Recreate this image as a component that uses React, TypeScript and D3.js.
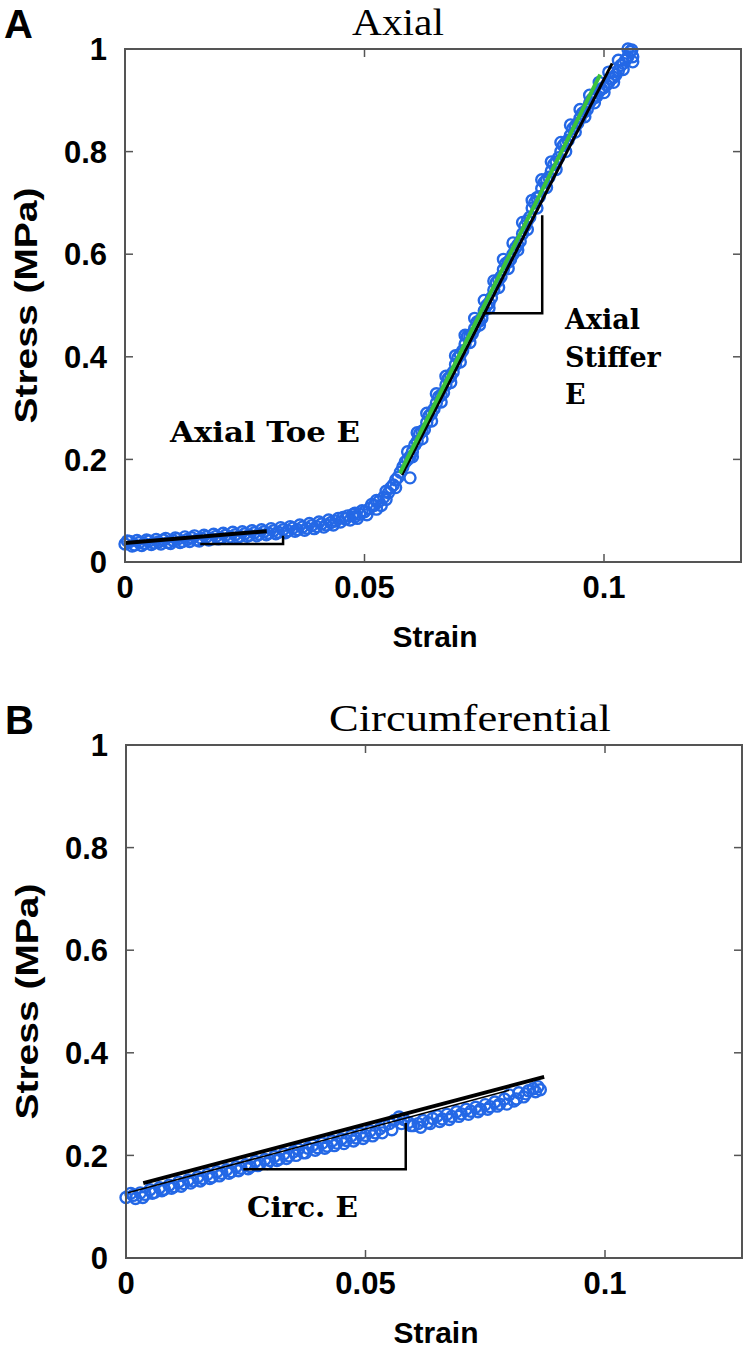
import React from 'react';
import * as d3 from 'd3';

type P = [number, number];

// Panel A – axial test (strain, stress MPa)
const axialPoints: P[] = [
  [0.000, 0.035], [0.001, 0.040], [0.002, 0.033], [0.003, 0.038], [0.004, 0.036], [0.005, 0.041],
  [0.006, 0.037], [0.007, 0.039], [0.008, 0.043], [0.009, 0.038], [0.010, 0.042], [0.011, 0.045],
  [0.012, 0.040], [0.013, 0.044], [0.014, 0.047], [0.015, 0.043], [0.016, 0.046], [0.017, 0.049],
  [0.018, 0.045], [0.019, 0.050], [0.020, 0.047], [0.021, 0.052], [0.022, 0.049], [0.023, 0.053],
  [0.024, 0.050], [0.025, 0.055], [0.026, 0.052], [0.027, 0.057], [0.028, 0.054], [0.029, 0.059],
  [0.030, 0.056], [0.031, 0.061], [0.032, 0.058], [0.033, 0.063], [0.034, 0.061], [0.035, 0.066],
  [0.036, 0.063], [0.037, 0.068], [0.038, 0.066], [0.039, 0.071], [0.040, 0.069], [0.041, 0.074],
  [0.042, 0.072], [0.043, 0.077], [0.044, 0.080], [0.045, 0.078], [0.046, 0.084], [0.047, 0.082],
  [0.048, 0.088], [0.049, 0.093], [0.050, 0.098], [0.051, 0.104], [0.052, 0.110], [0.053, 0.118],
  [0.054, 0.126], [0.055, 0.135], [0.0555, 0.145], [0.056, 0.150], [0.057, 0.165], [0.0575, 0.175],
  [0.058, 0.185], [0.059, 0.200], [0.060, 0.215], [0.061, 0.235], [0.062, 0.255], [0.063, 0.272],
  [0.064, 0.290], [0.065, 0.310], [0.066, 0.325], [0.067, 0.345], [0.068, 0.362], [0.069, 0.385],
  [0.070, 0.405], [0.071, 0.425], [0.072, 0.440], [0.073, 0.455], [0.074, 0.470], [0.075, 0.490],
  [0.076, 0.505], [0.077, 0.530], [0.078, 0.550], [0.079, 0.570], [0.080, 0.585], [0.081, 0.600],
  [0.082, 0.618], [0.083, 0.640], [0.084, 0.665], [0.085, 0.690], [0.086, 0.710], [0.087, 0.728],
  [0.088, 0.745], [0.089, 0.762], [0.090, 0.780], [0.091, 0.800], [0.092, 0.818], [0.093, 0.832],
  [0.094, 0.850], [0.095, 0.865], [0.096, 0.878], [0.097, 0.895], [0.098, 0.905], [0.099, 0.918],
  [0.100, 0.925], [0.101, 0.935], [0.102, 0.945], [0.103, 0.958], [0.104, 0.972], [0.105, 0.985],
  [0.1055, 0.995],
  [0.0565, 0.160], [0.0585, 0.195], [0.0595, 0.205], [0.0605, 0.228], [0.0615, 0.250], [0.0625, 0.258],
  [0.0635, 0.285], [0.0645, 0.298], [0.0655, 0.322], [0.0665, 0.330], [0.0675, 0.358], [0.0685, 0.370],
  [0.0695, 0.398], [0.0705, 0.412], [0.0715, 0.440], [0.0725, 0.445], [0.0735, 0.468], [0.0745, 0.475],
  [0.0755, 0.500], [0.0765, 0.515], [0.0775, 0.545], [0.0785, 0.556], [0.0795, 0.582], [0.0805, 0.590],
  [0.0815, 0.612], [0.0825, 0.625], [0.0835, 0.655], [0.0845, 0.672], [0.0855, 0.700], [0.0865, 0.712],
  [0.0875, 0.740], [0.0885, 0.750], [0.0895, 0.775], [0.0905, 0.788], [0.0915, 0.812], [0.0925, 0.822],
  [0.0935, 0.845], [0.0945, 0.855], [0.0955, 0.875], [0.0965, 0.882], [0.0975, 0.902], [0.0985, 0.908],
  [0.0995, 0.922], [0.1005, 0.930], [0.1015, 0.942], [0.1025, 0.950], [0.1035, 0.968], [0.1045, 0.978],
  [0.1058, 0.998], [0.106, 0.985],
  [0.0465, 0.090], [0.048, 0.095], [0.0445, 0.085], [0.0535, 0.110], [0.0595, 0.164], [0.0525, 0.120],
  [0.0005, 0.041], [0.0015, 0.031], [0.0025, 0.042], [0.0035, 0.032], [0.0045, 0.043], [0.0055, 0.034],
  [0.0065, 0.044], [0.0075, 0.035], [0.0085, 0.046], [0.0095, 0.036], [0.0105, 0.047], [0.0115, 0.038],
  [0.0125, 0.049], [0.0135, 0.040], [0.0145, 0.051], [0.0155, 0.041], [0.0165, 0.052], [0.0175, 0.043],
  [0.0185, 0.054], [0.0195, 0.045], [0.0205, 0.056], [0.0215, 0.046], [0.0225, 0.058], [0.0235, 0.048],
  [0.0245, 0.059], [0.0255, 0.050], [0.0265, 0.061], [0.0275, 0.051], [0.0285, 0.063], [0.0295, 0.053],
  [0.0305, 0.065], [0.0315, 0.055], [0.0325, 0.067], [0.0335, 0.057], [0.0345, 0.069], [0.0355, 0.060],
  [0.0365, 0.072], [0.0375, 0.062], [0.0385, 0.075], [0.0395, 0.065], [0.0405, 0.078], [0.0415, 0.068],
  [0.0425, 0.082], [0.0435, 0.072], [0.0455, 0.087], [0.0475, 0.092], [0.0485, 0.085], [0.0495, 0.100],
  [0.0505, 0.092], [0.0515, 0.112], [0.0525, 0.103], [0.0545, 0.122], [0.0545, 0.138], [0.0565, 0.145],
  [0.0600, 0.205], [0.0620, 0.240], [0.0640, 0.275], [0.0660, 0.312], [0.0680, 0.350], [0.0700, 0.390],
  [0.0720, 0.428], [0.0740, 0.462], [0.0760, 0.495], [0.0780, 0.535], [0.0800, 0.572], [0.0820, 0.608],
  [0.0840, 0.648], [0.0860, 0.690], [0.0880, 0.730], [0.0900, 0.765], [0.0920, 0.800], [0.0940, 0.838],
  [0.0960, 0.868], [0.0980, 0.895], [0.1000, 0.915], [0.1020, 0.935], [0.1040, 0.960], [0.1060, 0.975],
  [0.0590, 0.215], [0.0610, 0.252], [0.0630, 0.290], [0.0650, 0.328], [0.0670, 0.362], [0.0690, 0.402],
  [0.0710, 0.442], [0.0730, 0.475], [0.0750, 0.510], [0.0770, 0.548], [0.0790, 0.590], [0.0810, 0.622],
  [0.0830, 0.662], [0.0850, 0.705], [0.0870, 0.745], [0.0890, 0.780], [0.0910, 0.818], [0.0930, 0.852],
  [0.0950, 0.882], [0.0970, 0.910], [0.0990, 0.935], [0.1010, 0.955], [0.1030, 0.978], [0.1050, 1.000],
];
const axialToeFit: P[] = [[0.0, 0.037], [0.0296, 0.060]];
const axialStiffFitBlack: P[] = [[0.0578, 0.170], [0.1017, 0.972]];
const axialStiffFitGreen: P[] = [[0.0574, 0.173], [0.0992, 0.950]];
const axialToeTriangle: P[] = [[0.0157, 0.035], [0.0330, 0.035], [0.0330, 0.051]];
const axialStiffTriangle: P[] = [[0.0747, 0.485], [0.0871, 0.485], [0.0871, 0.676]];

// Panel B – circumferential test
const circPoints: P[] = [
  [0.000, 0.118], [0.001, 0.126], [0.002, 0.116], [0.003, 0.127], [0.004, 0.124], [0.005, 0.133],
  [0.006, 0.128], [0.007, 0.137], [0.008, 0.134], [0.009, 0.142], [0.010, 0.139], [0.011, 0.148],
  [0.012, 0.145], [0.013, 0.152], [0.014, 0.150], [0.015, 0.158], [0.016, 0.155], [0.017, 0.163],
  [0.018, 0.158], [0.019, 0.168], [0.020, 0.165], [0.021, 0.172], [0.022, 0.168], [0.023, 0.178],
  [0.024, 0.175], [0.025, 0.182], [0.026, 0.178], [0.027, 0.188], [0.028, 0.184], [0.029, 0.192],
  [0.030, 0.190], [0.031, 0.198], [0.032, 0.193], [0.033, 0.203], [0.034, 0.199], [0.035, 0.207],
  [0.036, 0.212], [0.037, 0.205], [0.038, 0.214], [0.039, 0.220], [0.040, 0.215], [0.041, 0.224],
  [0.042, 0.218], [0.043, 0.228], [0.044, 0.224], [0.045, 0.232], [0.046, 0.229], [0.047, 0.238],
  [0.048, 0.234], [0.049, 0.243], [0.050, 0.239], [0.051, 0.248], [0.052, 0.244], [0.053, 0.252],
  [0.054, 0.258], [0.055, 0.262], [0.056, 0.268], [0.057, 0.275], [0.058, 0.270], [0.059, 0.264],
  [0.060, 0.258], [0.061, 0.262], [0.062, 0.268], [0.063, 0.264], [0.064, 0.272], [0.065, 0.277],
  [0.066, 0.271], [0.067, 0.280], [0.068, 0.276], [0.069, 0.285], [0.070, 0.281], [0.071, 0.290],
  [0.072, 0.286], [0.073, 0.294], [0.074, 0.290], [0.075, 0.299], [0.076, 0.295], [0.077, 0.304],
  [0.078, 0.300], [0.079, 0.310], [0.080, 0.318], [0.081, 0.306], [0.082, 0.322], [0.083, 0.314],
  [0.084, 0.326], [0.085, 0.330], [0.086, 0.334], [0.0865, 0.328],
  [0.0015, 0.122], [0.0035, 0.118], [0.0055, 0.126], [0.0075, 0.131], [0.0095, 0.136], [0.0115, 0.140],
  [0.0135, 0.146], [0.0155, 0.150], [0.0175, 0.155], [0.0195, 0.160], [0.0215, 0.165], [0.0235, 0.170],
  [0.0255, 0.174], [0.0275, 0.180], [0.0295, 0.184], [0.0315, 0.190], [0.0335, 0.194], [0.0355, 0.200],
  [0.0375, 0.205], [0.0395, 0.210], [0.0415, 0.214], [0.0435, 0.219], [0.0455, 0.223], [0.0475, 0.228],
  [0.0495, 0.233], [0.0515, 0.238], [0.0535, 0.244], [0.0555, 0.250], [0.0575, 0.262], [0.0595, 0.258],
  [0.0615, 0.255], [0.0635, 0.262], [0.0655, 0.266], [0.0675, 0.270], [0.0695, 0.276], [0.0715, 0.280],
  [0.0735, 0.285], [0.0755, 0.290], [0.0775, 0.296], [0.0795, 0.300], [0.0815, 0.310], [0.0835, 0.320],
  [0.0855, 0.324],
];
const circFitThick: P[] = [[0.0036, 0.146], [0.0873, 0.353]];
const circFitThin: P[] = [[0.0004, 0.127], [0.080, 0.327]];
const circTriangle: P[] = [[0.0245, 0.173], [0.0584, 0.173], [0.0584, 0.263]];

const xTicks = [0, 0.05, 0.1];
const xTickLabels = ['0', '0.05', '0.1'];
const yTicks = [0, 0.2, 0.4, 0.6, 0.8, 1];
const yTickLabels = ['0', '0.2', '0.4', '0.6', '0.8', '1'];

const BLUE = '#2468e6';
const SANS = '"Liberation Sans", Arial, Helvetica, sans-serif';
const SERIF = '"Liberation Serif", "Times New Roman", serif';
const ANNOT = '"DejaVu Serif", serif';

interface PanelProps {
  left: number;
  top: number;
  letter: string;
  title: string;
  titleX: number;
  titleLen: number;
  points: P[];
  children: (x: d3.ScaleLinear<number, number>, y: d3.ScaleLinear<number, number>) => React.ReactNode;
}

const W = 616;
const H = 513;
const X_MAX = 0.1286;

function Panel({ left, top, letter, title, titleX, titleLen, points, children }: PanelProps) {
  const x = d3.scaleLinear().domain([0, X_MAX]).range([left, left + W]);
  const y = d3.scaleLinear().domain([0, 1]).range([top + H, top]);
  const tickLen = 8;
  return (
    <g>
      <text x={left - 121} y={top - 11} fontFamily={SANS} fontWeight="bold" fontSize={40}>{letter}</text>
      <text x={titleX} y={top - 14} fontFamily={SERIF} fontSize={38} textAnchor="middle"
        textLength={titleLen} lengthAdjust="spacingAndGlyphs">{title}</text>
      {points.map((p, i) => (
        <circle key={i} cx={x(p[0])} cy={y(p[1])} r={5.5} fill="none" stroke={BLUE} strokeWidth={2.4} />
      ))}
      {children(x, y)}
      <rect x={left} y={top} width={W} height={H} fill="none" stroke="#555" strokeWidth={2} />
      {xTicks.map((t, i) => (
        <g key={'xt' + i}>
          <line x1={x(t)} x2={x(t)} y1={top + H} y2={top + H - tickLen} stroke="#555" strokeWidth={1.5} />
          <line x1={x(t)} x2={x(t)} y1={top} y2={top + tickLen} stroke="#555" strokeWidth={1.5} />
          <text x={x(t)} y={top + H + 36} fontFamily={SANS} fontWeight="bold" fontSize={31} textAnchor="middle">{xTickLabels[i]}</text>
        </g>
      ))}
      {yTicks.map((t, i) => (
        <g key={'yt' + i}>
          <line x1={left} x2={left + tickLen} y1={y(t)} y2={y(t)} stroke="#555" strokeWidth={1.5} />
          <line x1={left + W} x2={left + W - tickLen} y1={y(t)} y2={y(t)} stroke="#555" strokeWidth={1.5} />
          <text x={left - 18} y={y(t)} dy="0.36em" fontFamily={SANS} fontWeight="bold" fontSize={31} textAnchor="end">{yTickLabels[i]}</text>
        </g>
      ))}
      <text x={left + 310} y={top + H + 85} fontFamily={SANS} fontWeight="bold" fontSize={30} textAnchor="middle">Strain</text>
      <text transform={`translate(${left - 88},${top + H / 2}) rotate(-90)`} fontFamily={SANS} fontWeight="bold" fontSize={31}
        textAnchor="middle" textLength={236} lengthAdjust="spacingAndGlyphs">Stress (MPa)</text>
    </g>
  );
}

function seg(x: d3.ScaleLinear<number, number>, y: d3.ScaleLinear<number, number>, pts: P[]) {
  const line = d3.line<P>().x(d => x(d[0])).y(d => y(d[1]));
  return line(pts) || '';
}

export default function App() {
  return (
    <svg width={750} height={1352} style={{ position: 'absolute', left: 0, top: 0, background: '#fff' }}>
      <rect width={750} height={1352} fill="#fff" />
      <Panel left={125} top={49} letter="A" title="Axial" titleX={398} titleLen={92} points={axialPoints}>
        {(x, y) => (
          <g>
            <path d={seg(x, y, axialToeFit)} stroke="#000" strokeWidth={4} fill="none" />
            <path d={seg(x, y, axialToeTriangle)} stroke="#000" strokeWidth={2.5} fill="none" />
            <path d={seg(x, y, axialStiffFitBlack)} stroke="#000" strokeWidth={3} fill="none" />
            <path d={seg(x, y, axialStiffFitGreen)} stroke="#3cc23c" strokeWidth={4} fill="none" />
            <path d={seg(x, y, axialStiffTriangle)} stroke="#000" strokeWidth={2.5} fill="none" />
            <text x={170} y={442} fontFamily={ANNOT} fontWeight="bold" fontSize={28} textLength={190} lengthAdjust="spacingAndGlyphs">Axial Toe E</text>
            <text fontFamily={ANNOT} fontWeight="bold" fontSize={27}>
              <tspan x={565} y={329}>Axial</tspan>
              <tspan x={565} y={367}>Stiffer</tspan>
              <tspan x={565} y={404}>E</tspan>
            </text>
          </g>
        )}
      </Panel>
      <Panel left={126} top={745} letter="B" title="Circumferential" titleX={470} titleLen={282} points={circPoints}>
        {(x, y) => (
          <g>
            <path d={seg(x, y, circFitThin)} stroke="#000" strokeWidth={1.5} fill="none" />
            <path d={seg(x, y, circFitThick)} stroke="#000" strokeWidth={4} fill="none" />
            <path d={seg(x, y, circTriangle)} stroke="#000" strokeWidth={2.5} fill="none" />
            <text x={247} y={1217} fontFamily={ANNOT} fontWeight="bold" fontSize={28} textLength={111} lengthAdjust="spacingAndGlyphs">Circ. E</text>
          </g>
        )}
      </Panel>
    </svg>
  );
}
